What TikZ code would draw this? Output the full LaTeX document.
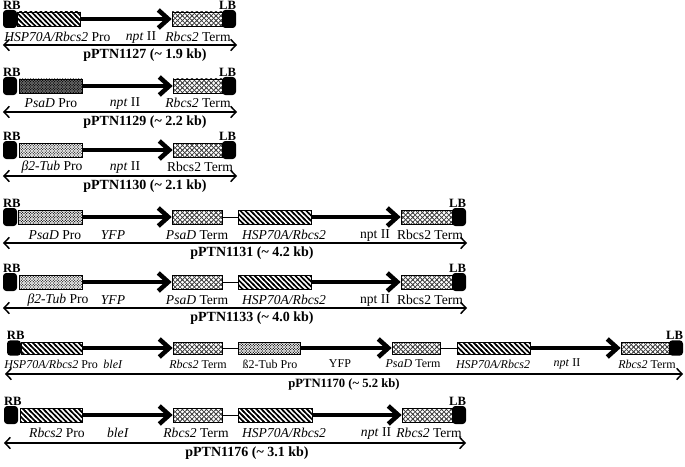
\documentclass[tikz,border=0pt]{standalone}
\usepackage{fontspec}
\setmainfont{Liberation Serif}
\usetikzlibrary{arrows.meta,patterns,positioning}

% fill patterns
\pgfdeclarepatternformonly{nwthick}{\pgfqpoint{-1pt}{-1pt}}{\pgfqpoint{4.8pt}{4.8pt}}{\pgfqpoint{3.8pt}{3.8pt}}{%
  \pgfsetlinewidth{1.2pt}%
  \pgfpathmoveto{\pgfqpoint{-1pt}{4.8pt}}\pgfpathlineto{\pgfqpoint{4.8pt}{-1pt}}%
  \pgfusepath{stroke}}
\pgfdeclarepatternformonly{xhatch}{\pgfqpoint{-1pt}{-1pt}}{\pgfqpoint{4.6pt}{4.6pt}}{\pgfqpoint{3.6pt}{3.6pt}}{%
  \pgfsetlinewidth{0.5pt}%
  \pgfpathmoveto{\pgfqpoint{-1pt}{-1pt}}\pgfpathlineto{\pgfqpoint{4.6pt}{4.6pt}}%
  \pgfpathmoveto{\pgfqpoint{-1pt}{4.6pt}}\pgfpathlineto{\pgfqpoint{4.6pt}{-1pt}}%
  \pgfusepath{stroke}}
\pgfdeclarepatternformonly{finedots}{\pgfqpoint{-0.7pt}{-0.7pt}}{\pgfqpoint{2.7pt}{2.7pt}}{\pgfqpoint{2pt}{2pt}}{%
  \pgfpathcircle{\pgfqpoint{0pt}{0pt}}{0.55pt}%
  \pgfpathcircle{\pgfqpoint{1pt}{1pt}}{0.55pt}%
  \pgfusepath{fill}}

\tikzset{
  border/.style={fill=black, rounded corners=2.5pt, minimum width=10.5pt, minimum height=13.5pt, inner sep=0pt},
  part/.style={draw, line width=0.5pt, minimum height=10.5pt, minimum width=#1*0.75pt, inner sep=0pt},
  hatch/.style={part=#1, pattern=nwthick},
  term/.style={part=#1, pattern=xhatch, pattern color=black!75},
  darkdots/.style={part=#1, fill=black!55, postaction={pattern=finedots}},
  dotbox/.style={part=#1, pattern=finedots},
  lightdots/.style={part=#1, pattern=finedots, pattern color=black!85},
  gene/.style={line width=3.4pt, -{Straight Barb[length=7.5pt, width=13.5pt]}},
  link/.style={line width=0.7pt},
  sizebar/.style={line width=1.1pt, {Straight Barb[length=4pt, width=8.5pt]}-{Straight Barb[length=4pt, width=8.5pt]}},
  tag/.style={font=\bfseries\fontsize{9.5}{10}\selectfont, inner sep=0pt},
  lab/.style={font=\fontsize{10.2}{12}\selectfont, inner sep=0pt},
  smalllab/.style={font=\fontsize{9}{11}\selectfont, inner sep=0pt},
  plasmid/.style={font=\bfseries\fontsize{10.5}{12}\selectfont, inner sep=0pt},
}

\begin{document}
\begin{tikzpicture}[x=0.75pt, y=-0.75pt]
\useasboundingbox (0,0) rectangle (685,467);

% pPTN1127
\node[border] (rb1) at (10,19) {}; \node[hatch=63] (pro1) at (48.5,19) {};
\node[term=50] (ter1) at (197,19) {}; \node[border] (lb1) at (229,19) {};
\node[tag, above right=0pt of rb1.north west] (rbt1) {RB}; \node[tag, above left=0pt of lb1.north east] (lbt1) {LB};
\draw[gene] (pro1.east) -- (ter1.west);
\node[lab, anchor=west] (l1a) at (4,37) {\textit{HSP70A/Rbcs2} Pro}; \node[lab] (l1b) at (141,37) {\textit{npt} II}; \node[lab] (l1c) at (198,37) {\textit{Rbcs2} Term};
\coordinate (s1) at (3,45); \coordinate (e1) at (237,45);
\draw[sizebar] (s1) -- (e1);
\node[plasmid] (n1) at (145,55) {pPTN1127 (\textasciitilde{} 1.9 kb)};

% pPTN1129
\node[border] (rb2) at (10,86) {}; \node[darkdots=63] (pro2) at (50.5,86) {};
\node[term=49] (ter2) at (197.5,86) {}; \node[border] (lb2) at (229,86) {};
\node[tag, above right=0pt of rb2.north west] (rbt2) {RB}; \node[tag, above left=0pt of lb2.north east] (lbt2) {LB};
\draw[gene] (pro2.east) -- (ter2.west);
\node[lab] (l2a) at (51,103) {\textit{PsaD} Pro}; \node[lab] (l2b) at (125,103) {\textit{npt} II}; \node[lab] (l2c) at (198,103) {\textit{Rbcs2} Term};
\coordinate (s2) at (3,112); \coordinate (e2) at (237,112);
\draw[sizebar] (s2) -- (e2);
\node[plasmid] (n2) at (145,122) {pPTN1129 (\textasciitilde{} 2.2 kb)};

% pPTN1130
\node[border] (rb3) at (10,150) {}; \node[lightdots=63] (pro3) at (50.5,150) {};
\node[term=49] (ter3) at (197.5,150) {}; \node[border] (lb3) at (229,150) {};
\node[tag, above right=0pt of rb3.north west] (rbt3) {RB}; \node[tag, above left=0pt of lb3.north east] (lbt3) {LB};
\draw[gene] (pro3.east) -- (ter3.west);
\node[lab] (l3a) at (52,167) {\textit{β2-Tub} Pro}; \node[lab] (l3b) at (125,167) {\textit{npt} II}; \node[lab] (l3c) at (200,167) {Rbcs2 Term};
\coordinate (s3) at (3,176); \coordinate (e3) at (237,176);
\draw[sizebar] (s3) -- (e3);
\node[plasmid] (n3) at (145,186) {pPTN1130 (\textasciitilde{} 2.1 kb)};

% pPTN1131
\node[border] (rb4) at (10,217) {}; \node[dotbox=64] (pro4) at (50,217) {};
\node[term=50] (ter4a) at (197,217) {}; \node[hatch=73] (hsp4) at (274.5,217) {};
\node[term=51] (ter4b) at (426.5,217) {}; \node[border] (lb4) at (459,217) {};
\node[tag, above right=0pt of rb4.north west] (rbt4) {RB}; \node[tag, above left=0pt of lb4.north east] (lbt4) {LB};
\draw[gene] (pro4.east) -- (ter4a.west);
\draw[link] (ter4a.east) -- (hsp4.west);
\draw[gene] (hsp4.east) -- (ter4b.west);
\node[lab] (l4a) at (55,235) {\textit{PsaD} Pro}; \node[lab] (l4b) at (113,235) {\textit{YFP}}; \node[lab] (l4c) at (197,235) {\textit{PsaD} Term};
\node[lab] (l4d) at (284,235) {\textit{HSP70A/Rbcs2}}; \node[lab] (l4e) at (375,235) {npt II}; \node[lab] (l4f) at (430,235) {Rbcs2 Term};
\coordinate (s4) at (3,243); \coordinate (e4) at (467,243);
\draw[sizebar] (s4) -- (e4);
\node[plasmid] (n4) at (252,253) {pPTN1131 (\textasciitilde{} 4.2 kb)};

% pPTN1133
\node[border] (rb5) at (10,282) {}; \node[lightdots=63] (pro5) at (50.5,282) {};
\node[term=50] (ter5a) at (197,282) {}; \node[hatch=73] (hsp5) at (274.5,282) {};
\node[term=51] (ter5b) at (426.5,282) {}; \node[border] (lb5) at (459,282) {};
\node[tag, above right=0pt of rb5.north west] (rbt5) {RB}; \node[tag, above left=0pt of lb5.north east] (lbt5) {LB};
\draw[gene] (pro5.east) -- (ter5a.west);
\draw[link] (ter5a.east) -- (hsp5.west);
\draw[gene] (hsp5.east) -- (ter5b.west);
\node[lab] (l5a) at (58,300) {\textit{β2-Tub} Pro}; \node[lab] (l5b) at (113,300) {\textit{YFP}}; \node[lab] (l5c) at (197,300) {\textit{PsaD} Term};
\node[lab] (l5d) at (284,300) {\textit{HSP70A/Rbcs2}}; \node[lab] (l5e) at (375,300) {npt II}; \node[lab] (l5f) at (430,300) {Rbcs2 Term};
\coordinate (s5) at (3,308); \coordinate (e5) at (467,308);
\draw[sizebar] (s5) -- (e5);
\node[plasmid] (n5) at (252,318) {pPTN1133 (\textasciitilde{} 4.0 kb)};

% pPTN1170
\node[border, minimum height=11.5pt] (rb6) at (14,348) {}; \node[hatch=61, minimum height=9pt] (pro6) at (51.5,348) {};
\node[term=49, minimum height=9pt] (ter6a) at (197.5,348) {}; \node[dotbox=62, minimum height=9pt] (tub6) at (269,348) {};
\node[term=48, minimum height=9pt] (ter6b) at (416,348) {}; \node[hatch=73, minimum height=9pt] (hsp6) at (493.5,348) {};
\node[term=48, minimum height=9pt] (ter6c) at (645,348) {}; \node[border, minimum height=11.5pt] (lb6) at (676,348) {};
\node[tag, above right=0pt of rb6.north west] (rbt6) {RB}; \node[tag, above left=0pt of lb6.north east] (lbt6) {LB};
\draw[gene] (pro6.east) -- (ter6a.west);
\draw[link] (ter6a.east) -- (tub6.west);
\draw[gene] (tub6.east) -- (ter6b.west);
\draw[link] (ter6b.east) -- (hsp6.west);
\draw[gene] (hsp6.east) -- (ter6c.west);
\node[smalllab, anchor=west] (l6a) at (4,364) {\textit{HSP70A/Rbcs2} Pro}; \node[smalllab] (l6b) at (113,364) {\textit{bleI}}; \node[smalllab] (l6c) at (198,364) {\textit{Rbcs2} Term};
\node[smalllab] (l6d) at (270,364) {ß2-Tub Pro}; \node[smalllab] (l6e) at (340,364) {YFP}; \node[smalllab] (l6f) at (413,364) {\textit{PsaD} Term};
\node[smalllab] (l6g) at (493,364) {\textit{HSP70A/Rbcs2}}; \node[smalllab] (l6h) at (567,364) {\textit{npt} II}; \node[smalllab] (l6i) at (647,364) {\textit{Rbcs2} Term};
\coordinate (s6) at (5,374); \coordinate (e6) at (683,374);
\draw[sizebar] (s6) -- (e6);
\node[plasmid, font=\bfseries\fontsize{9.5}{11}\selectfont] (n6) at (344,384) {pPTN1170 (\textasciitilde{} 5.2 kb)};

% pPTN1176
\node[border] (rb7) at (11,415) {}; \node[hatch=62] (pro7) at (51,415) {};
\node[term=49] (ter7a) at (197.5,415) {}; \node[hatch=74] (hsp7) at (275,415) {};
\node[term=50] (ter7b) at (427,415) {}; \node[border] (lb7) at (459,415) {};
\node[tag, above right=0pt of rb7.north west] (rbt7) {RB}; \node[tag, above left=0pt of lb7.north east] (lbt7) {LB};
\draw[gene] (pro7.east) -- (ter7a.west);
\draw[link] (ter7a.east) -- (hsp7.west);
\draw[gene] (hsp7.east) -- (ter7b.west);
\node[lab] (l7a) at (57,433) {\textit{Rbcs2} Pro}; \node[lab] (l7b) at (118,433) {\textit{bleI}}; \node[lab] (l7c) at (196,433) {\textit{Rbcs2} Term};
\node[lab] (l7d) at (284,433) {\textit{HSP70A/Rbcs2}}; \node[lab] (l7e) at (376,433) {\textit{npt} II}; \node[lab] (l7f) at (429,433) {\textit{Rbcs2} Term};
\coordinate (s7) at (4,443); \coordinate (e7) at (466,443);
\draw[sizebar] (s7) -- (e7);
\node[plasmid] (n7) at (247,453) {pPTN1176 (\textasciitilde{} 3.1 kb)};
\end{tikzpicture}
\end{document}
